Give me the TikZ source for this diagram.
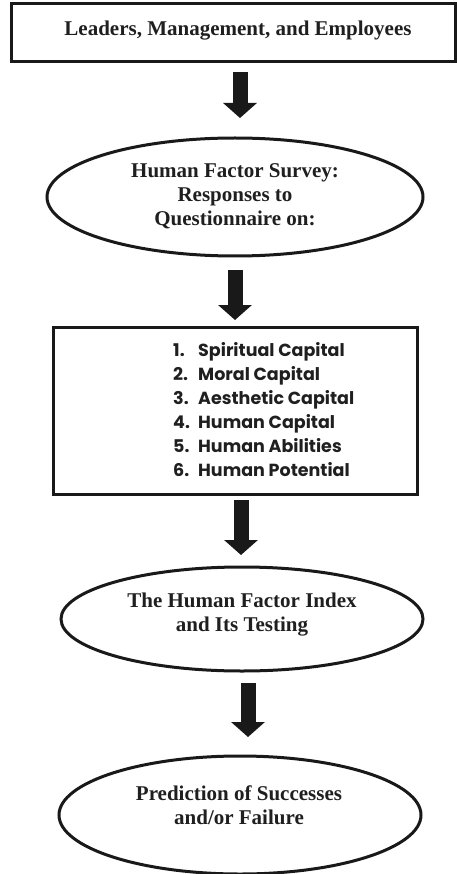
\documentclass[tikz,border=0pt]{standalone}
\usepackage{fontspec}
\setmainfont{Liberation Serif}
\newfontfamily\listfont{Poppins}
\usetikzlibrary{shapes.geometric,arrows.meta}
\newcommand{\numitem}[2]{\makebox[25pt][l]{#1}#2}
\begin{document}
\begin{tikzpicture}[x=1pt,y=-1pt,
  frame/.style={draw=black!90, line width=3pt, rectangle, inner sep=0pt},
  oval/.style={draw=black!90, line width=3pt, ellipse, inner sep=0pt},
  ttl/.style={font=\fontsize{21}{24}\selectfont\bfseries, align=center, text=black!88, inner sep=0pt},
  listtxt/.style={font=\listfont\fontsize{17.5}{24}\selectfont\bfseries, align=left, anchor=west, text=black!88, inner sep=0pt},
  blockarrow/.style={line width=15pt, draw=black!90, line cap=butt, -{Triangle[width=33pt,length=15pt]}}
]
\useasboundingbox (0,0) rectangle (457,874);
% shapes
\node[frame, minimum width=444pt, minimum height=58pt] (lead) at (233,33) {};
\node[oval, minimum width=376pt, minimum height=118pt] (survey) at (235,197) {};
\node[frame, minimum width=364pt, minimum height=167pt] (caps) at (235,410.5) {};
\node[oval, minimum width=362pt, minimum height=104pt] (index) at (242,619) {};
\node[oval, minimum width=362pt, minimum height=118pt] (pred) at (240,815) {};
% texts
\node[ttl] (leadt) at (238,31) {Leaders, Management, and Employees};
\node[ttl] (surveyt) at (235,196) {Human Factor Survey:\\Responses to\\Questionnaire on:};
\node[listtxt] (capst) at (173,410) {\numitem{1.}{Spiritual Capital}\\\numitem{2.}{Moral Capital}\\\numitem{3.}{Aesthetic Capital}\\\numitem{4.}{Human Capital}\\\numitem{5.}{Human Abilities}\\\numitem{6.}{Human Potential}};
\node[ttl] (indext) at (242,615) {The Human Factor Index\\and Its Testing};
\node[ttl] (predt) at (239,805) {Prediction of Successes\\and/or Failure};
% arrows
\coordinate (a1s) at (240,72);  \coordinate (a1e) at (240,118);
\coordinate (a2s) at (235,270); \coordinate (a2e) at (235,320);
\coordinate (a3s) at (241,500); \coordinate (a3e) at (241,555);
\coordinate (a4s) at (248,683); \coordinate (a4e) at (248,737);
\draw[blockarrow] (a1s) -- (a1e);
\draw[blockarrow] (a2s) -- (a2e);
\draw[blockarrow] (a3s) -- (a3e);
\draw[blockarrow] (a4s) -- (a4e);
\end{tikzpicture}
\end{document}
